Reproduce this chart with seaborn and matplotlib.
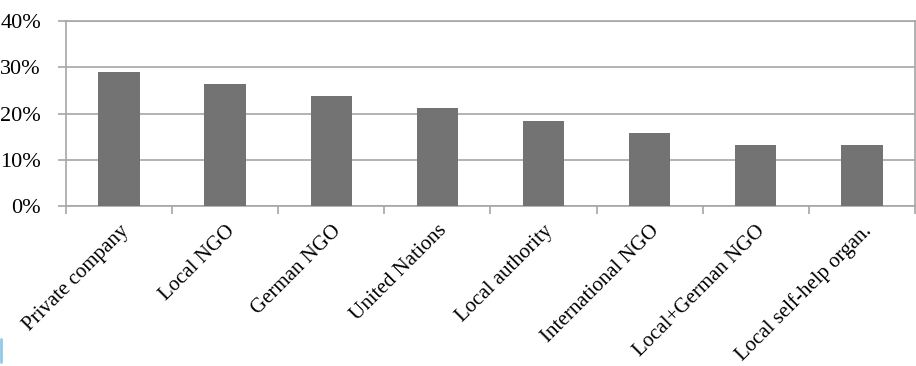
import matplotlib
matplotlib.use("Agg")
import matplotlib.pyplot as plt
from matplotlib.lines import Line2D
import seaborn as sns
import pandas as pd
import numpy as np

categories = ["Private company", "Local NGO", "German NGO", "United Nations",
              "Local authority", "International NGO", "Local+German NGO",
              "Local self-help organ."]
shares = [28.9, 26.3, 23.7, 21.1, 18.4, 15.8, 13.2, 13.2]
y_ticks = [0, 10, 20, 30, 40]
y_tick_labels = ["0%", "10%", "20%", "30%", "40%"]

sns.set_theme(style="white")
plt.rcParams["font.family"] = ["Liberation Serif", "DejaVu Serif"]

df = pd.DataFrame({"partner": categories, "share": shares})

fig = plt.figure(figsize=(9.16, 3.66), dpi=100)
ax = fig.add_axes([0.072, 0.437, 0.9268, 0.5056])

sns.barplot(data=df, x="partner", y="share", color="#737373", saturation=1,
            width=0.39, ax=ax, zorder=3, edgecolor="none")

grid_c = "#a6a6a6"
ax.set_ylim(0, 40)
ax.set_xlim(-0.5, len(categories) - 0.5)
ax.set_yticks(y_ticks)
ax.set_yticklabels(y_tick_labels, fontsize=16, color="black")
ax.yaxis.grid(True, color=grid_c, linewidth=1.2, zorder=0)
ax.set_axisbelow(True)

for side in ["left", "bottom", "right", "top"]:
    ax.spines[side].set_visible(True)
    ax.spines[side].set_color(grid_c)
    ax.spines[side].set_linewidth(1.2)

ax.tick_params(axis="y", length=6, width=1.2, color=grid_c, pad=12, left=True)
ax.set_xticks(range(len(categories)))
ax.set_xticklabels(categories, rotation=45, ha="right", rotation_mode="anchor",
                   fontsize=15, color="black")
ax.tick_params(axis="x", which="major", length=0, pad=11)
ax.set_xticks(np.arange(-0.5, len(categories)), minor=True)
ax.tick_params(axis="x", which="minor", length=6, width=1.2, color=grid_c, bottom=True)
ax.set_xlabel("")
ax.set_ylabel("")

fig.add_artist(Line2D([0.0015, 0.0015], [0.01, 0.075], color="#8ecbe8",
                      linewidth=2, transform=fig.transFigure))

fig.savefig("out.png", dpi=100, facecolor="white")
